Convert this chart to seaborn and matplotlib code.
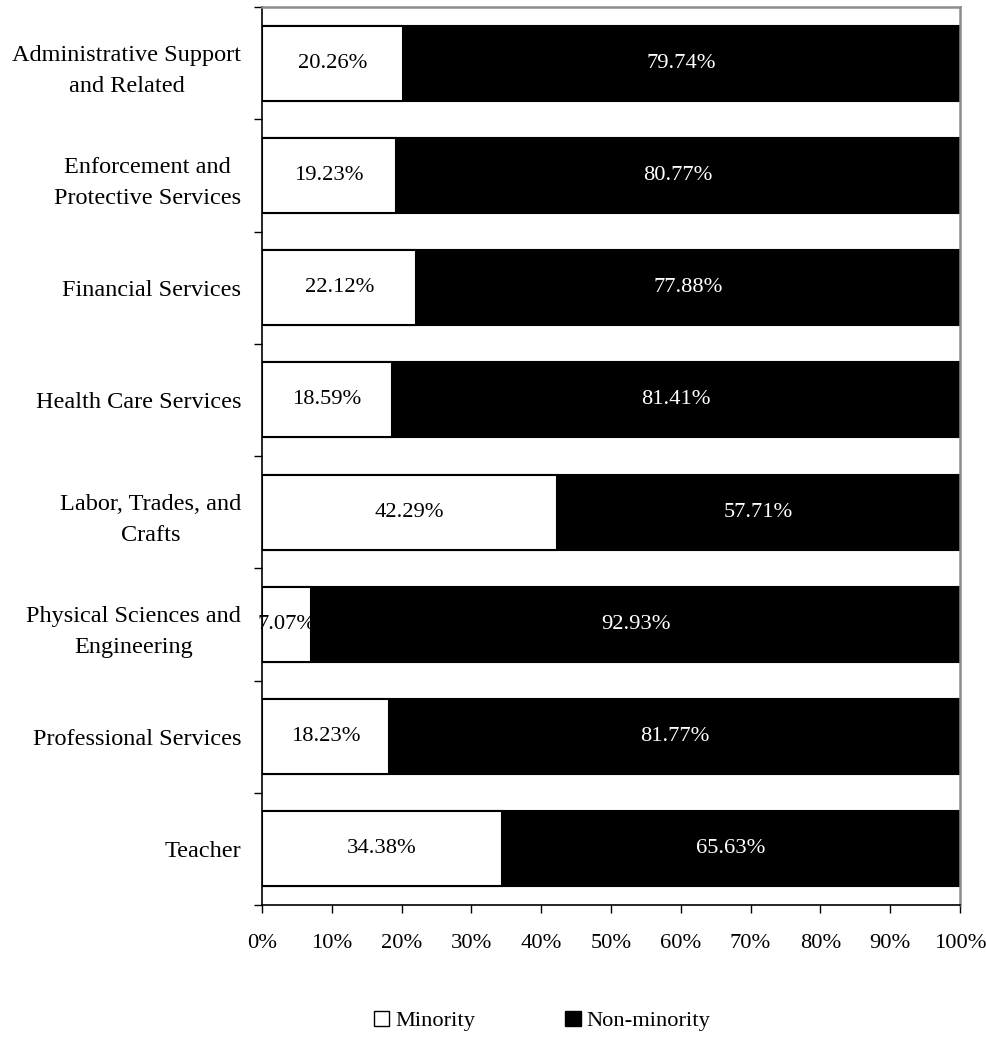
import matplotlib
matplotlib.use("Agg")
import matplotlib.pyplot as plt
from matplotlib.patches import Patch
from matplotlib.ticker import FixedLocator
import seaborn as sns
import pandas as pd
import numpy as np

categories = [
    "Administrative Support\nand Related",
    "Enforcement and\nProtective Services",
    "Financial Services",
    "Health Care Services",
    "Labor, Trades, and\nCrafts",
    "Physical Sciences and\nEngineering",
    "Professional Services",
    "Teacher",
]
minority = [20.26, 19.23, 22.12, 18.59, 42.29, 7.07, 18.23, 34.38]
non_minority = [79.74, 80.77, 77.88, 81.41, 57.71, 92.93, 81.77, 65.63]
x_ticks = [0, 10, 20, 30, 40, 50, 60, 70, 80, 90, 100]

sns.set_theme(style="white")
plt.rcParams["font.family"] = ["Liberation Serif", "DejaVu Serif"]
plt.rcParams["text.color"] = "black"
plt.rcParams["xtick.color"] = "black"
plt.rcParams["ytick.color"] = "black"
plt.rcParams["xtick.labelcolor"] = "black"
plt.rcParams["ytick.labelcolor"] = "black"
FS = 16.2
FS_CAT = 17.5

df = pd.DataFrame({"category": categories,
                   "minority": minority,
                   "non_minority": non_minority})
df["total"] = df["minority"] + df["non_minority"]

fig = plt.figure(figsize=(9.87, 10.37), dpi=100)
ax = fig.add_axes([262 / 987, 1 - 905 / 1037, 698 / 987, 898 / 1037])

# stacked bars: full-length black bar underneath, white minority share on top
sns.barplot(data=df, x="total", y="category", orient="h", color="black",
            saturation=1, width=0.67, edgecolor="black", linewidth=1.5,
            ax=ax, errorbar=None)
sns.barplot(data=df, x="minority", y="category", orient="h", color="white",
            saturation=1, width=0.67, edgecolor="black", linewidth=1.5,
            ax=ax, errorbar=None)

for i, (m, n) in enumerate(zip(minority, non_minority)):
    ax.text(m / 2, i, f"{m:.2f}%", ha="center", va="center",
            color="black", fontsize=FS)
    ax.text(m + n / 2, i, f"{n:.2f}%", ha="center", va="center",
            color="white", fontsize=FS)

ax.set_xlim(0, 100)
ax.set_ylim(len(categories) - 0.5, -0.5)
ax.set_xticks(x_ticks)
ax.set_xticklabels([f"{t}%" for t in x_ticks], fontsize=FS, color="black")
ax.set_xlabel("")
ax.set_ylabel("")

ax.set_yticks(range(len(categories)))
ax.set_yticklabels(categories, fontsize=FS_CAT, color="black")
for lab in ax.get_yticklabels():
    lab.set_multialignment("center")
    lab.set_linespacing(1.65)
ax.yaxis.set_minor_locator(FixedLocator(np.arange(-0.5, len(categories), 1.0)))
ax.tick_params(axis="y", which="major", length=0, pad=15)
ax.tick_params(axis="y", which="minor", direction="out", length=6,
               width=1, color="black", left=True)
ax.tick_params(axis="x", which="major", direction="out", length=6,
               width=1, color="black", bottom=True, pad=15)

for side in ("left", "bottom"):
    ax.spines[side].set_color("black")
    ax.spines[side].set_linewidth(1.2)
for side in ("top", "right"):
    ax.spines[side].set_color("#8c8c8c")
    ax.spines[side].set_linewidth(1.8)
    ax.spines[side].set_visible(True)

handles = [Patch(facecolor="white", edgecolor="black", linewidth=1),
           Patch(facecolor="black", edgecolor="black", linewidth=1)]
leg = fig.legend(handles, ["Minority", "Non-minority"], loc="center",
                 bbox_to_anchor=(542 / 987, 1 - 1021 / 1037), ncol=2,
                 frameon=False, fontsize=FS, handlelength=0.7,
                 handleheight=0.7, handletextpad=0.25, columnspacing=4.0)
for t in leg.get_texts():
    t.set_color("black")

fig.savefig("out.png", dpi=100)
